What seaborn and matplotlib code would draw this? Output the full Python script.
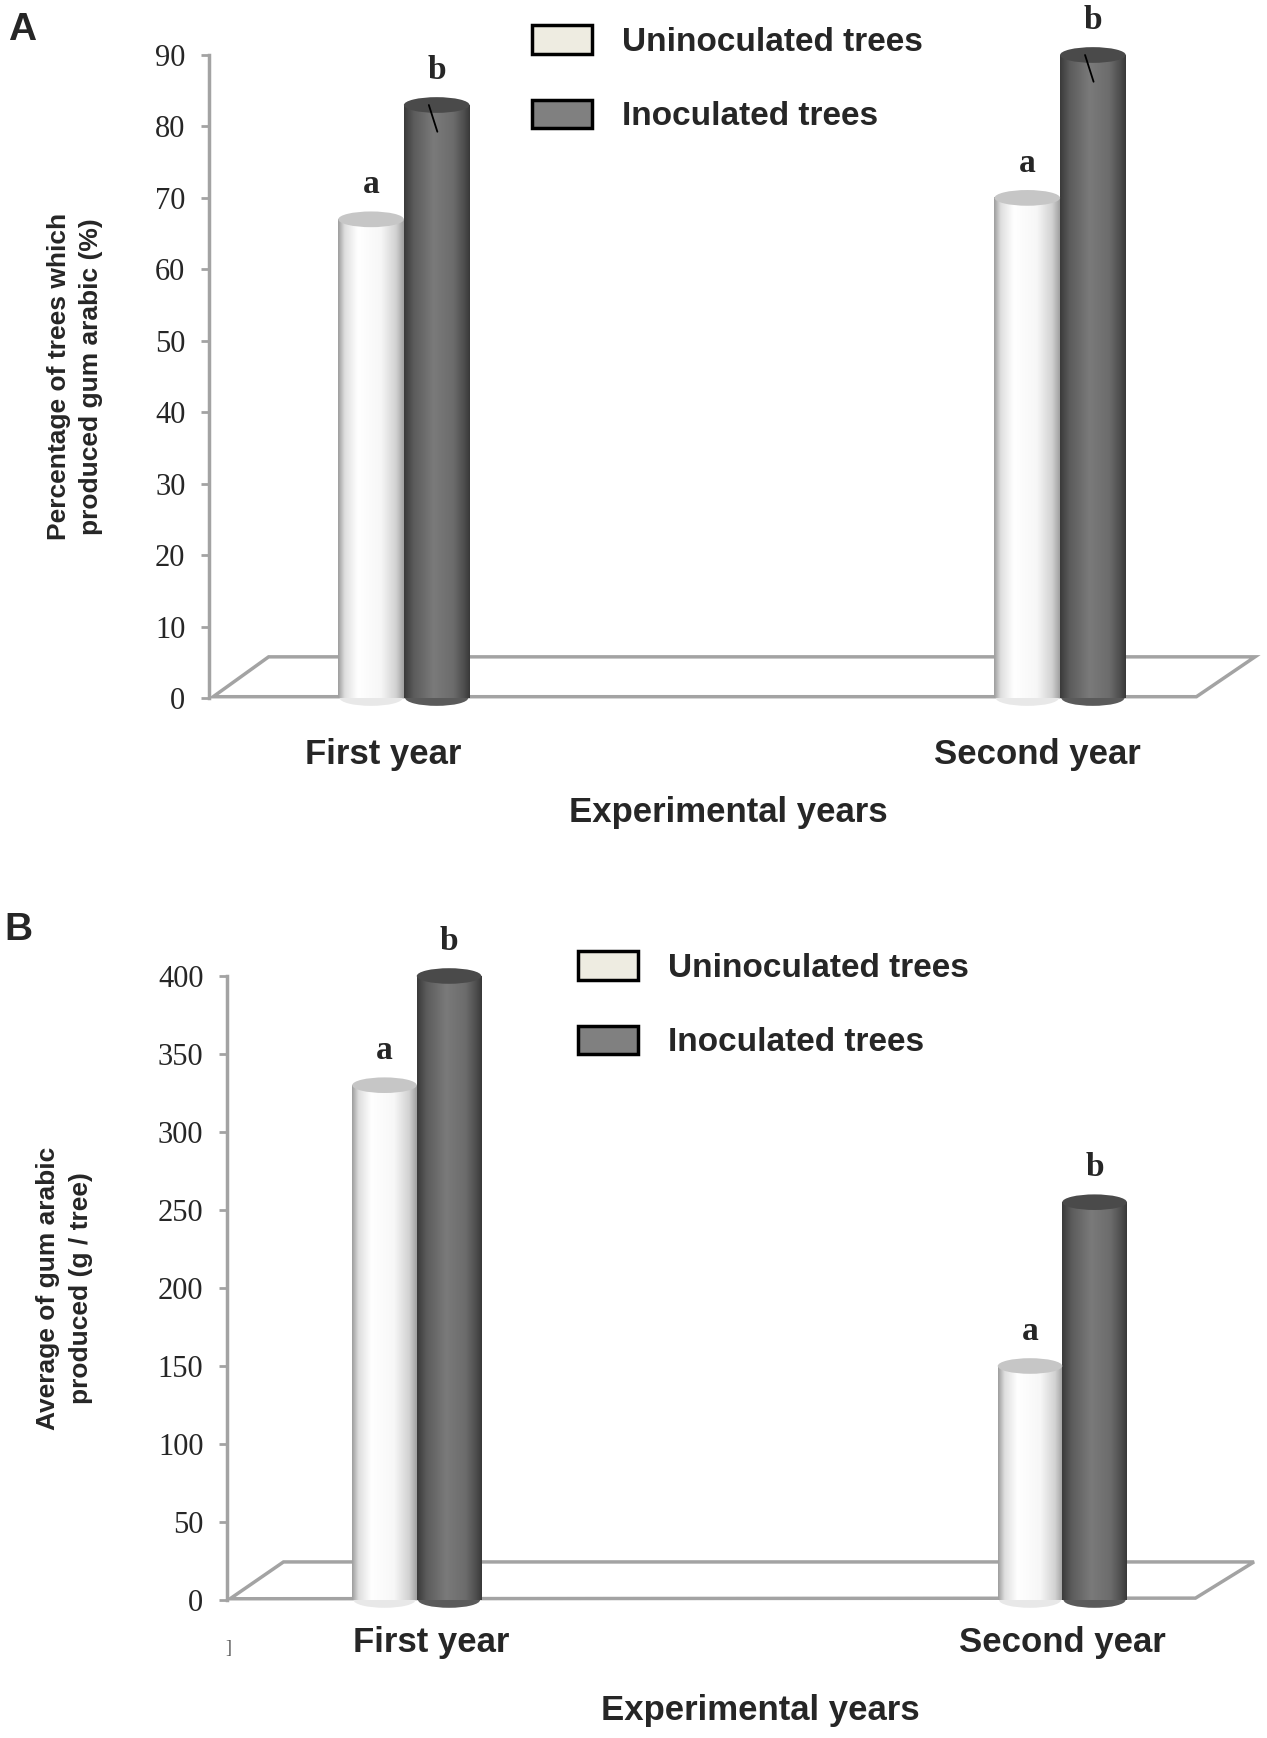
import matplotlib
matplotlib.use('Agg')
import matplotlib.pyplot as plt
import matplotlib.transforms as mtransforms
import seaborn as sns
import numpy as np
import pandas as pd
from matplotlib.colors import LinearSegmentedColormap, to_rgb
from matplotlib.patches import Ellipse, Polygon, Patch

# data
years = ['First year', 'Second year']
groups = ['Uninoculated trees', 'Inoculated trees']
pct_uninoc = [67, 70]
pct_inoc = [83, 90]
gum_uninoc = [330, 150]
gum_inoc = [400, 255]
letters_uninoc = ['a', 'a']
letters_inoc = ['b', 'b']

light = '#eeece1'
dark = '#808080'

sns.set_theme(style='white')
sans = ['Liberation Sans Narrow', 'Liberation Sans', 'DejaVu Sans']
serif = ['Liberation Serif', 'DejaVu Serif']
plt.rcParams['font.family'] = sans

light_cmap = LinearSegmentedColormap.from_list('light_cyl', [
    (0.0, '#9c9c9c'), (0.10, '#dedede'), (0.30, '#ffffff'),
    (0.65, '#f7f7f7'), (0.88, '#d2d2d2'), (1.0, '#a0a0a0')])
dark_cmap = LinearSegmentedColormap.from_list('dark_cyl', [
    (0.0, '#3a3a3a'), (0.15, '#5c5c5c'), (0.45, '#7a7a7a'),
    (0.75, '#6c6c6c'), (0.92, '#4c4c4c'), (1.0, '#383838')])


def draw_panel(fig, ax, vals_u, vals_i, ymax, yticks, ylabel, xlim, floor,
               ylab_x, xlab_xy, tick_pad, tick_shift, top_h, marker_line):
    df = pd.DataFrame({
        'year': years * 2,
        'group': [groups[0]] * len(years) + [groups[1]] * len(years),
        'value': list(vals_u) + list(vals_i),
    })
    sns.barplot(data=df, x='year', y='value', hue='group', order=years,
                hue_order=groups, palette={groups[0]: light, groups[1]: dark},
                width=0.2, saturation=1, linewidth=0, legend=False, ax=ax,
                zorder=2)

    # cylinder shading on every bar
    grad = np.linspace(0, 1, 256).reshape(1, -1)
    bars = list(ax.patches)
    for bar in bars:
        x0, w, h = bar.get_x(), bar.get_width(), bar.get_height()
        xc = x0 + w / 2
        is_light = np.allclose(bar.get_facecolor()[:3], to_rgb(light), atol=0.02)
        cmap = light_cmap if is_light else dark_cmap
        ax.imshow(grad, cmap=cmap, extent=[x0, x0 + w, 0, h], aspect='auto',
                  interpolation='bicubic', zorder=2.1)
        top_col = '#c6c6c6' if is_light else '#4a4a4a'
        ax.add_patch(Ellipse((xc, h), w, top_h, facecolor=top_col,
                             edgecolor='none', zorder=2.2, clip_on=False))
        bot_col = '#e8e8e8' if is_light else '#5a5a5a'
        ax.add_patch(Ellipse((xc, 0), w * 0.96, top_h, facecolor=bot_col,
                             edgecolor='none', zorder=2.05, clip_on=False))
        if marker_line and not is_light:
            ax.plot([xc - 0.12 * w, xc + 0.01 * w], [h, h - 1.7 * top_h],
                    color='black', lw=1.3, zorder=2.3, clip_on=False)

    # letters above bars
    n = len(years)
    for i, bar in enumerate(bars):
        letter = letters_uninoc[i] if i < n else letters_inoc[i - n]
        ax.annotate(letter, (bar.get_x() + bar.get_width() / 2, bar.get_height()),
                    xytext=(0, 25), textcoords='offset points', ha='center',
                    va='center', fontsize=24, fontweight='bold', family=serif,
                    annotation_clip=False)

    # 3D-like floor
    ax.add_patch(Polygon(floor, closed=True, transform=ax.transAxes,
                         facecolor='white', edgecolor='#a3a3a3', lw=2.5,
                         zorder=1, clip_on=False))

    ax.set_xlim(*xlim)
    ax.set_ylim(0, ymax)
    ax.set_yticks(yticks)
    for s in ['top', 'right', 'bottom']:
        ax.spines[s].set_visible(False)
    ax.spines['left'].set_color('#a3a3a3')
    ax.spines['left'].set_linewidth(2.5)
    ax.tick_params(axis='y', direction='out', left=True, length=6, width=2,
                   color='#a3a3a3', labelsize=22, pad=11)
    for lbl in ax.get_yticklabels():
        lbl.set_fontfamily(serif)
    ax.tick_params(axis='x', length=0, labelsize=25, pad=tick_pad)
    for lbl, dx in zip(ax.get_xticklabels(), tick_shift):
        lbl.set_fontweight('bold')
        lbl.set_transform(lbl.get_transform() +
                          mtransforms.ScaledTranslation(dx / 100, 0, fig.dpi_scale_trans))

    ax.set_ylabel(ylabel, fontsize=19, fontweight='bold', linespacing=1.45)
    ax.yaxis.label.set_verticalalignment('center')
    ax.yaxis.set_label_coords(ylab_x, 0.5)
    ax.set_xlabel('Experimental years', fontsize=25, fontweight='bold')
    ax.xaxis.label.set_verticalalignment('center')
    ax.xaxis.set_label_coords(*xlab_xy)

    handles = [Patch(facecolor=light, edgecolor='black', linewidth=2.5),
               Patch(facecolor=dark, edgecolor='black', linewidth=2.5)]
    return handles


W, H = 1267, 1738
fig = plt.figure(figsize=(W / 100, H / 100), dpi=100)

ax_a = fig.add_axes([209 / W, 1 - 698 / H, 1046 / W, 643 / H])
ax_b = fig.add_axes([227 / W, 1 - 1600 / H, 1027 / W, 624 / H])

handles = draw_panel(
    fig, ax_a, pct_uninoc, pct_inoc, 90, np.arange(0, 91, 10),
    'Percentage of trees which\nproduced gum arabic (%)',
    (-0.297, 1.297),
    [(0.004, 0.002), (0.057, 0.064), (1.0, 0.064), (0.944, 0.002)],
    -0.128, (0.496, -0.178), 29, (-21, -23), 2.2, True)

draw_panel(
    fig, ax_b, gum_uninoc, gum_inoc, 400, np.arange(0, 401, 50),
    'Average of gum arabic\nproduced (g / tree)',
    (-0.294, 1.297),
    [(0.003, 0.002), (0.055, 0.061), (1.0, 0.061), (0.943, 0.003)],
    -0.158, (0.519, -0.177), 19, (14, 0), 10, False)

legend_prop = dict(family=sans, weight='bold', size=24)
for ax, anchor in [(ax_a, (532 / W, 1 - 25 / H)), (ax_b, (578 / W, 1 - 951 / H))]:
    ax.legend(handles, groups, loc='upper left', bbox_to_anchor=anchor,
              bbox_transform=fig.transFigure, frameon=False, prop=legend_prop,
              handlelength=1.8, handleheight=0.95, handletextpad=0.9,
              labelspacing=1.25, borderaxespad=0, borderpad=0)

fig.text(22 / W, 1 - 30 / H, 'A', fontsize=28, fontweight='bold',
         family=['Liberation Sans', 'DejaVu Sans'], ha='center', va='center')
fig.text(18 / W, 1 - 930 / H, 'B', fontsize=28, fontweight='bold',
         family=['Liberation Sans', 'DejaVu Sans'], ha='center', va='center')
fig.text(228 / W, 1 - 1648 / H, ']', fontsize=13, family=serif,
         color='#555555', ha='center', va='center')

fig.savefig('out.png', dpi=100)
